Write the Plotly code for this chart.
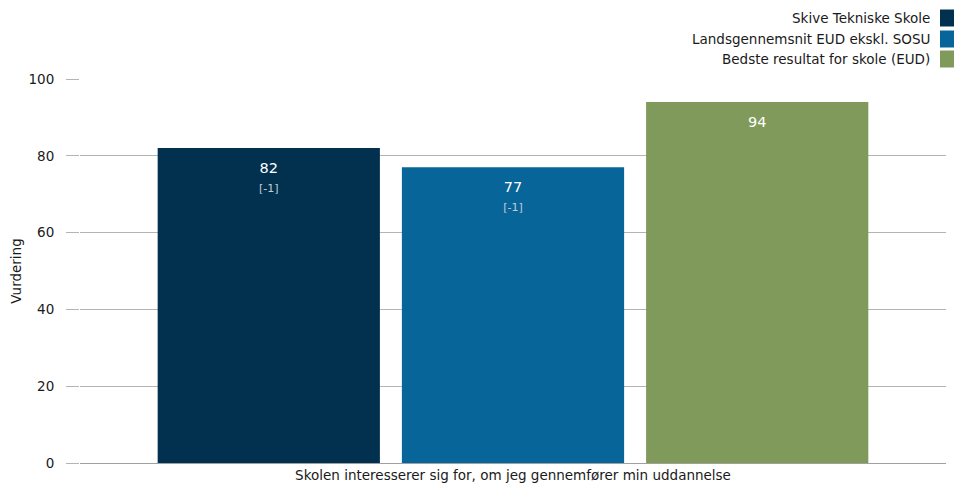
import plotly.graph_objects as go

category = ["Skolen interesserer sig for, om jeg gennemfører min uddannelse"]
series_names = ["Skive Tekniske Skole", "Landsgennemsnit EUD ekskl. SOSU", "Bedste resultat for skole (EUD)"]
series_values = [82, 77, 94]
series_changes = ["[-1]", "[-1]", ""]
series_colors = ["#02314f", "#076599", "#7f9a5a"]
y_ticks = [0, 20, 40, 60, 80, 100]
y_title = "Vurdering"

OFF = 8  # default page body margin
W, H = 962 - OFF, 490 - OFF
L, R, T, B = 80 - OFF, 16, 79 - OFF, 27
FONT = "DejaVu Sans"
FS = 13.5

fig = go.Figure()
for name, val, chg, col in zip(series_names, series_values, series_changes, series_colors):
    txt = f"<span style='font-size:3px'> </span><br>{val}"
    if chg:
        txt += f"<br><span style='font-size:11px;color:#c3ccd6'>{chg}</span>"
    fig.add_trace(go.Bar(
        x=category, y=[val], name=name, marker=dict(color=col, line=dict(width=0)),
        text=[txt], texttemplate="%{text}", textposition="inside", insidetextanchor="end",
        textfont=dict(family=FONT, size=14.5, color="white"), showlegend=False,
        hoverinfo="skip", textangle=0,
    ))

pw, ph = W - L - R, H - T - B
def px_x(x):
    return (x - OFF - L) / pw
def px_y(y):
    return (H - B - (y - OFF)) / ph

shapes = []
annotations = []
legend_rows = [18, 39, 59]
for name, col, yc in zip(series_names, series_colors, legend_rows):
    annotations.append(dict(xref="paper", yref="paper", x=px_x(932), y=px_y(yc),
                            xanchor="right", yanchor="middle", text=name, showarrow=False,
                            font=dict(family=FONT, size=FS, color="#1a1a1a")))
    shapes.append(dict(type="rect", xref="paper", yref="paper", x0=px_x(940), x1=px_x(958),
                       y0=px_y(yc + 8.5), y1=px_y(yc - 8.5), fillcolor=col, line=dict(width=0)))

fig.update_layout(
    width=W, height=H, margin=dict(l=L, r=R, t=T, b=B, autoexpand=False),
    paper_bgcolor="white", plot_bgcolor="white",
    barmode="group", bargap=0.154, bargroupgap=0.09,
    font=dict(family=FONT, size=FS, color="#1a1a1a"),
    shapes=shapes, annotations=annotations,
    xaxis=dict(showline=True, linecolor="#a0a0a0", linewidth=1, ticks="", automargin=False,
               tickfont=dict(family=FONT, size=FS, color="#1a1a1a")),
    yaxis=dict(range=[0, 100], tickvals=y_ticks, showgrid=True, gridcolor="#b4b4b4", gridwidth=1,
               ticks="outside", ticklen=13, tickcolor="#b4b4b4", ticklabelstandoff=9,
               zeroline=False, automargin=False,
               tickfont=dict(family=FONT, size=FS, color="#1a1a1a"),
               title=dict(text=y_title, font=dict(family=FONT, size=FS, color="#1a1a1a"), standoff=12)),
)
fig.write_html("out.html")
